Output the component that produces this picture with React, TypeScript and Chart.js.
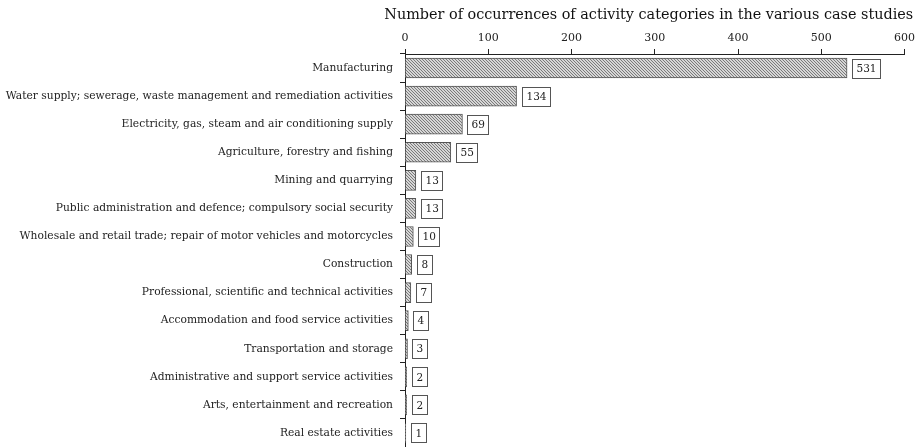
import React, { useEffect, useRef } from "react";
import { Chart, registerables } from "chart.js";

Chart.register(...registerables);

const categories = [
  "Manufacturing",
  "Water supply; sewerage, waste management and remediation activities",
  "Electricity, gas, steam and air conditioning supply",
  "Agriculture, forestry and fishing",
  "Mining and quarrying",
  "Public administration and defence; compulsory social security",
  "Wholesale and retail trade; repair of motor vehicles and motorcycles",
  "Construction",
  "Professional, scientific and technical activities",
  "Accommodation and food service activities",
  "Transportation and storage",
  "Administrative and support service activities",
  "Arts, entertainment and recreation",
  "Real estate activities",
];

const counts = [531, 134, 69, 55, 13, 13, 10, 8, 7, 4, 3, 2, 2, 1];

const chartTitle = "Number of occurrences of activity categories in the various case studies";
const axisMin = 0;
const axisMax = 600;
const axisStep = 100;

const FONT = "'DejaVu Serif', serif";

function makeHatch(): CanvasPattern | string {
  const n = 3;
  const c = document.createElement("canvas");
  c.width = n;
  c.height = n;
  const g = c.getContext("2d");
  if (!g) return "#bbb";
  g.fillStyle = "#d6d6d6";
  g.fillRect(0, 0, n, n);
  g.fillStyle = "#7a7a7a";
  for (let i = 0; i < n; i++) {
    g.fillRect(i, i, 1, 1);
  }
  const p = g.createPattern(c, "repeat");
  return p || "#bbb";
}

const valueBoxes = {
  id: "valueBoxes",
  afterDatasetsDraw(chart: any) {
    const ctx = chart.ctx as CanvasRenderingContext2D;
    const meta = chart.getDatasetMeta(0);
    const data = chart.data.datasets[0].data as number[];
    ctx.save();
    ctx.font = `10.5px ${FONT}`;
    ctx.textBaseline = "middle";
    ctx.textAlign = "left";
    meta.data.forEach((bar: any, i: number) => {
      const txt = String(data[i]);
      const w = Math.round(ctx.measureText(txt).width + 8);
      const h = 19;
      const x = Math.round(bar.x) + 5.5;
      const y = Math.round(bar.y - h / 2) + 0.5;
      ctx.fillStyle = "#fff";
      ctx.fillRect(x, y, w, h);
      ctx.strokeStyle = "#555";
      ctx.lineWidth = 1;
      ctx.strokeRect(x, y, w, h);
      ctx.fillStyle = "#222";
      ctx.fillText(txt, x + 4, bar.y + 1);
    });
    ctx.restore();
  },
};

const topTitle = {
  id: "topTitle",
  afterDraw(chart: any) {
    const ctx = chart.ctx as CanvasRenderingContext2D;
    const area = chart.chartArea;
    ctx.save();
    ctx.font = `14.4px ${FONT}`;
    ctx.fillStyle = "#111";
    ctx.textAlign = "center";
    ctx.textBaseline = "middle";
    ctx.fillText(chartTitle, (area.left + area.right) / 2 - 6, 15);
    ctx.restore();
  },
};

export default function App() {
  const ref = useRef<HTMLCanvasElement | null>(null);

  useEffect(() => {
    if (!ref.current) return;
    const chart = new Chart(ref.current, {
      type: "bar",
      data: {
        labels: categories,
        datasets: [
          {
            data: counts,
            backgroundColor: makeHatch() as any,
            borderColor: "#555",
            borderWidth: 1,
            barThickness: 20,
          },
        ],
      },
      options: {
        indexAxis: "y",
        animation: false,
        responsive: true,
        maintainAspectRatio: false,
        layout: { padding: { top: 0, right: 14, left: 0, bottom: 0 } },
        plugins: {
          legend: { display: false },
          tooltip: { enabled: false },
          title: { display: false },
        },
        scales: {
          x: {
            position: "top",
            min: axisMin,
            max: axisMax,
            afterFit: (s: any) => {
              s.height = 54;
            },
            ticks: {
              stepSize: axisStep,
              color: "#222",
              font: { family: FONT, size: 11 },
              padding: 4,
            },
            grid: {
              display: true,
              drawOnChartArea: false,
              drawTicks: true,
              tickLength: 5,
              color: "#222",
            },
            border: { display: true, color: "#222", width: 1 },
          },
          y: {
            afterFit: (s: any) => {
              s.width = 405;
              s.paddingTop = 0;
              s.paddingBottom = 0;
            },
            ticks: {
              color: "#222",
              font: { family: FONT, size: 10.7 },
              padding: 7,
              autoSkip: false,
            },
            grid: {
              display: true,
              drawOnChartArea: false,
              drawTicks: true,
              tickLength: 5,
              color: "#222",
              offset: true,
            },
            border: { display: true, color: "#222", width: 1 },
          },
        },
      },
      plugins: [valueBoxes, topTitle],
    });
    return () => chart.destroy();
  }, []);

  return (
    <div style={{ position: "fixed", left: 0, top: 0, width: 919, height: 447, background: "#fff" }}>
      <canvas ref={ref} />
    </div>
  );
}
